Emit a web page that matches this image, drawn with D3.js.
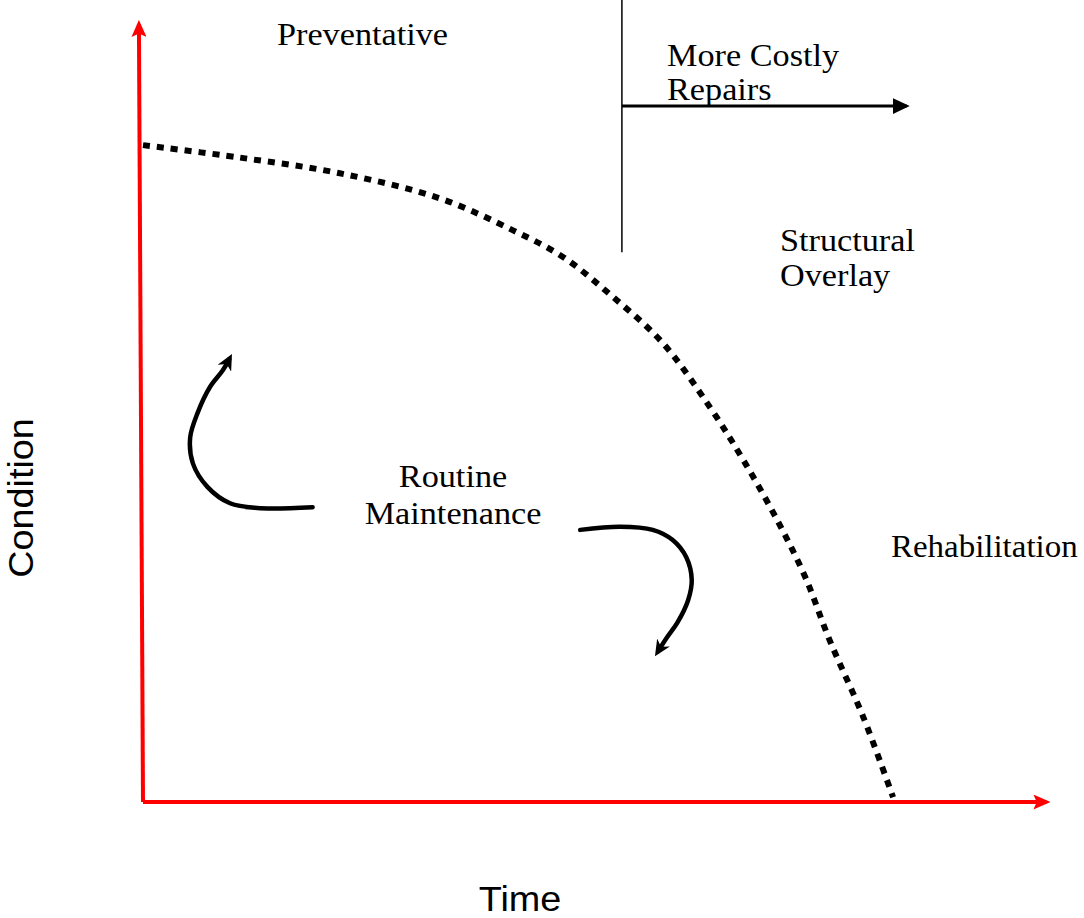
<!DOCTYPE html>
<html>
<head>
<meta charset="utf-8">
<script src="https://cdn.jsdelivr.net/npm/d3@7"></script>
<style>
  body { margin: 0; background: #fff; }
  text.serif { font-family: "Liberation Serif", "Times New Roman", serif; fill: #000; }
  text.sans { font-family: "Liberation Sans", Arial, sans-serif; fill: #000; }
</style>
</head>
<body>
<div id="chart"></div>
<script>
// deterioration curve (time vs condition, 0-100 units)
const curveTime      = [0, 10.7, 21.7, 32.7, 40.8, 46.3, 51.8, 57.3, 62.5, 66.2, 69.9, 73.0, 75.7, 79.4, 82.7];
const curveCondition = [84.0, 82.4, 80.4, 77.2, 73.1, 69.7, 64.6, 58.7, 50.5, 43.7, 36.1, 28.8, 20.7, 10.9, 0.6];

// curved "routine maintenance" arrows
const leftArrowT  = [18.7, 12.6, 9.6, 7.1, 5.5, 5.2, 6.0, 7.4, 8.8, 9.5];
const leftArrowC  = [37.7, 37.6, 38.2, 40.3, 43.3, 46.6, 49.7, 53.1, 55.2, 56.6];
const rightArrowT = [48.2, 52.6, 56.2, 58.4, 59.9, 60.5, 60.1, 58.9, 57.8, 56.8];
const rightArrowC = [34.8, 35.2, 34.8, 33.5, 31.3, 28.4, 25.8, 22.9, 21.1, 19.3];

// divider between preventative and costly repairs
const dividerT = [52.8, 52.8];
const dividerC = [102.6, 70.3];
const costlyArrowT = [52.8, 84.2];
const costlyArrowC = [89.0, 89.0];

const labels = ["Preventative", "More Costly", "Repairs", "Structural", "Overlay",
                "Routine", "Maintenance", "Rehabilitation"];
const axisTitles = ["Time", "Condition"];

const width = 1084, height = 918;

const svg = d3.select("#chart")
  .append("svg")
    .attr("width", width)
    .attr("height", height);

const x = d3.scaleLinear().domain([0, 100]).range([143, 1050]);
const y = d3.scaleLinear().domain([0, 100]).range([802, 20]);

const defs = svg.append("defs");
function marker(id, color, len, half, ref, notch) {
  defs.append("marker")
    .attr("id", id)
    .attr("markerUnits", "userSpaceOnUse")
    .attr("viewBox", `0 ${-half} ${len} ${half * 2}`)
    .attr("markerWidth", len)
    .attr("markerHeight", half * 2)
    .attr("refX", ref)
    .attr("refY", 0)
    .attr("orient", "auto")
    .append("path")
      .attr("d", `M0,${-half} L${len},0 L0,${half} L${len * notch},0 Z`)
      .attr("fill", color);
}
marker("redHead", "red", 17, 7.5, 13, 0.2);
marker("blackHead", "#000", 17, 8, 14, 0);
marker("curveHead", "#000", 16, 7.5, 10, 0.3);

const line = d3.line().x(d => x(d[0])).y(d => y(d[1]));
const zip = (a, b) => a.map((v, i) => [v, b[i]]);

// axes
svg.append("path")
  .attr("d", line([[0, 0], [99.6, 0]]))
  .attr("stroke", "red").attr("stroke-width", 4).attr("fill", "none")
  .attr("marker-end", "url(#redHead)");
svg.append("path")
  .attr("d", line([[0, 0], [-0.45, 99.5]]))
  .attr("stroke", "red").attr("stroke-width", 4).attr("fill", "none")
  .attr("marker-end", "url(#redHead)");

// dotted condition curve
svg.append("path")
  .datum(zip(curveTime, curveCondition))
  .attr("fill", "none")
  .attr("stroke", "#000")
  .attr("stroke-width", 6)
  .attr("stroke-dasharray", "7,7")
  .attr("d", d3.line().x(d => x(d[0])).y(d => y(d[1])).curve(d3.curveCatmullRom));

// divider + costly repairs arrow
svg.append("path")
  .attr("d", line(zip(dividerT, dividerC)))
  .attr("stroke", "#000").attr("stroke-width", 1.5).attr("fill", "none");
svg.append("path")
  .attr("d", line(zip(costlyArrowT, costlyArrowC)))
  .attr("stroke", "#000").attr("stroke-width", 2.8).attr("fill", "none")
  .attr("marker-end", "url(#blackHead)");

// routine maintenance arrows
[zip(leftArrowT, leftArrowC), zip(rightArrowT, rightArrowC)].forEach(pts => {
  svg.append("path")
    .datum(pts)
    .attr("fill", "none")
    .attr("stroke", "#000")
    .attr("stroke-width", 4.5)
    .attr("stroke-linecap", "round")
    .attr("d", d3.line().x(d => x(d[0])).y(d => y(d[1])).curve(d3.curveCatmullRom))
    .attr("marker-end", "url(#curveHead)");
});

// labels (reference type is slightly wide, so stretch horizontally)
const serifText = (txt, px, py, anchor, sx) => svg.append("text")
  .attr("class", "serif")
  .attr("transform", `translate(${px},${py}) scale(${sx || 1.07},1)`)
  .attr("text-anchor", anchor || "start")
  .style("font-size", "32px")
  .text(txt);

serifText(labels[0], 277, 45);
serifText(labels[1], 667, 66);
serifText(labels[2], 667, 100);
serifText(labels[3], 780, 251);
serifText(labels[4], 780, 286);
serifText(labels[5], 453, 487, "middle");
serifText(labels[6], 453, 524, "middle");
serifText(labels[7], 891, 557, "start", 1.03);

svg.append("text")
  .attr("class", "sans")
  .attr("transform", "translate(520,911) scale(1.08,1)")
  .attr("text-anchor", "middle")
  .style("font-size", "35px")
  .text(axisTitles[0]);

svg.append("text")
  .attr("class", "sans")
  .attr("transform", "translate(33,498) rotate(-90) scale(1.08,1)")
  .attr("text-anchor", "middle")
  .style("font-size", "35px")
  .text(axisTitles[1]);
</script>
</body>
</html>
